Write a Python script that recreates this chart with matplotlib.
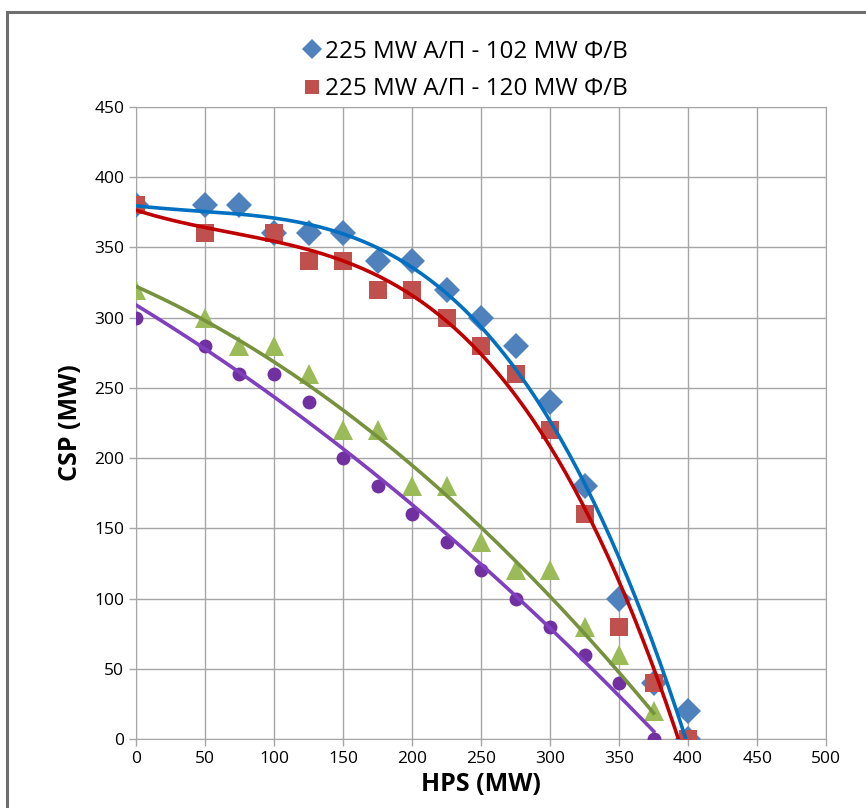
import matplotlib
matplotlib.use("Agg")
import matplotlib.pyplot as plt
import numpy as np
from matplotlib.patches import Rectangle

plt.rcParams["font.family"] = ["Open Sans", "DejaVu Sans"]

# HPS (x) / CSP (y) points
blue_x = [0, 50, 75, 100, 125, 150, 175, 200, 225, 250, 275, 300, 325, 350, 375, 400, 400]
blue_y = [380, 380, 380, 360, 360, 360, 340, 340, 320, 300, 280, 240, 180, 100, 40, 20, 0]

red_x = [0, 50, 100, 125, 150, 175, 200, 225, 250, 275, 300, 325, 350, 375, 400]
red_y = [380, 360, 360, 340, 340, 320, 320, 300, 280, 260, 220, 160, 80, 40, 0]

green_x = [0, 50, 75, 100, 125, 150, 175, 200, 225, 250, 275, 300, 325, 350, 375, 375]
green_y = [320, 300, 280, 280, 260, 220, 220, 180, 180, 140, 120, 120, 80, 60, 20, 0]

purple_x = [0, 50, 75, 100, 125, 150, 175, 200, 225, 250, 275, 300, 325, 350, 375]
purple_y = [300, 280, 260, 260, 240, 200, 180, 160, 140, 120, 100, 80, 60, 40, 0]

legend_labels = ["225 MW Α/Π - 102 MW Φ/Β", "225 MW Α/Π - 120 MW Φ/Β"]

series = [
    # x, y, marker, size, marker colour, line colour, fit degree, label
    (blue_x, blue_y, "D", 13, "#4F81BD", "#0070C0", 3, legend_labels[0]),
    (red_x, red_y, "s", 12.5, "#C0504D", "#C00000", 3, legend_labels[1]),
    (green_x, green_y, "^", 14, "#9BBB59", "#76923C", 2, None),
    (purple_x, purple_y, "o", 10, "#7030A0", "#7F3FBF", 2, None),
]

fig = plt.figure(figsize=(8.66, 8.08), dpi=100)
ax = fig.add_axes([0.157, 0.0854, 0.797, 0.7822])

# chart border (cropped at the right and bottom in the reference)
fig.patches.append(Rectangle((0.008, -0.05), 1.2, 1.035, transform=fig.transFigure,
                             fill=False, edgecolor="#6E6E6E", linewidth=2.2))

handles = []
for x, y, mk, ms, mc, lc, deg, lab in series:
    h, = ax.plot(x, y, linestyle="none", marker=mk, markersize=ms,
                 color=mc, markeredgewidth=0, label=lab, zorder=3)
    if lab:
        handles.append(h)
    coef = np.polyfit(x, y, deg)
    xs = np.linspace(min(x), max(x), 200)
    ax.plot(xs, np.polyval(coef, xs), color=lc, linewidth=2.6, zorder=4)

ax.set_xlim(0, 500)
ax.set_ylim(0, 450)
ax.set_xticks(np.arange(0, 501, 50))
ax.set_yticks(np.arange(0, 451, 50))
ax.grid(True, color="#A6A6A6", linewidth=1.0)
ax.set_axisbelow(True)
for s in ax.spines.values():
    s.set_color("#A6A6A6")
ax.tick_params(colors="#A6A6A6", labelcolor="black", labelsize=12.5, length=5, width=1)

ax.set_xlabel("HPS (MW)", fontsize=18, fontweight="bold", labelpad=4)
ax.set_ylabel("CSP (MW)", fontsize=18, fontweight="bold", labelpad=8)

fig.legend(handles=handles, loc="upper center", bbox_to_anchor=(0.537, 0.978),
           frameon=False, fontsize=17.5, handletextpad=0.15, labelspacing=0.55,
           handlelength=0.8, markerscale=0.75)

fig.savefig("out.png", dpi=100)
